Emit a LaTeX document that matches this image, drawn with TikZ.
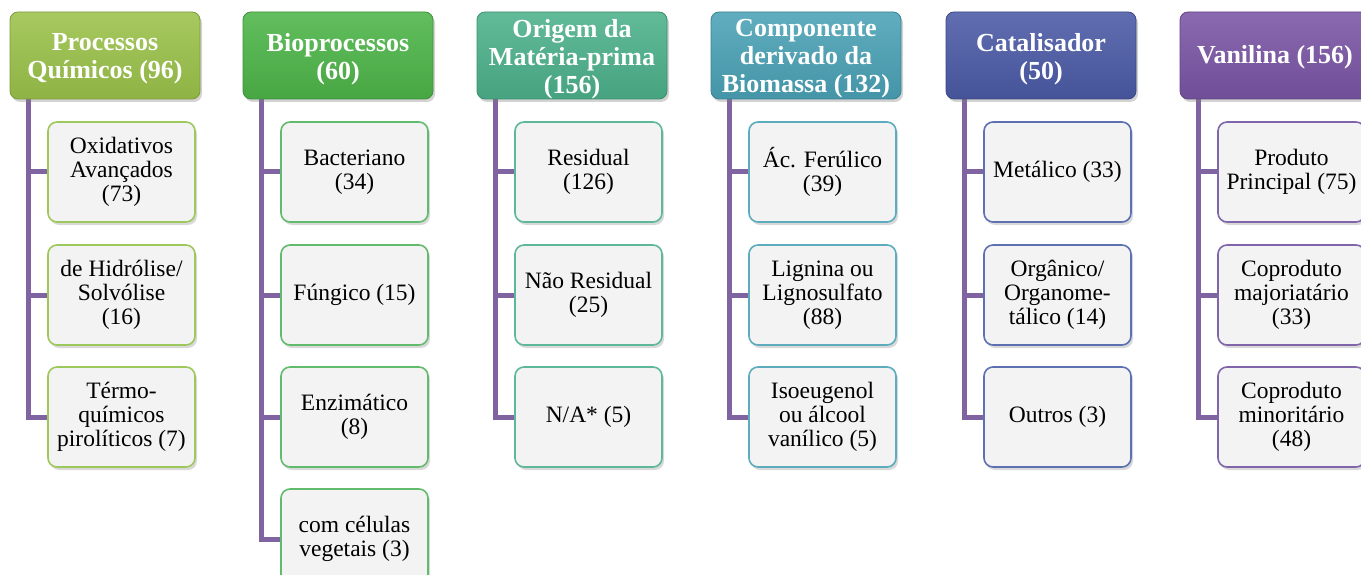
\documentclass[tikz,border=0pt]{standalone}
\usepackage{fontspec}
\setmainfont{Liberation Serif}
\usetikzlibrary{shadows,backgrounds}
\definecolor{hA}{HTML}{9BC24A}
\definecolor{hB}{HTML}{4DB548}
\definecolor{hC}{HTML}{4CB18A}
\definecolor{hD}{HTML}{4AA2B6}
\definecolor{hE}{HTML}{4B5AA6}
\definecolor{hF}{HTML}{7A55A5}
\definecolor{bA}{HTML}{9CC85C}
\definecolor{bB}{HTML}{62BB6C}
\definecolor{bC}{HTML}{5DB899}
\definecolor{bD}{HTML}{5CACBE}
\definecolor{bE}{HTML}{5C70B2}
\definecolor{bF}{HTML}{8065AA}
\definecolor{leafgray}{HTML}{F3F3F3}
\definecolor{connpurple}{HTML}{8064A2}
\tikzset{
  hdr/.style={rounded corners=8pt, minimum width=190pt, minimum height=87pt,
    inner sep=1pt, line width=0.8pt,
    top color=#1!88!white, bottom color=#1!92!black, draw=#1!80!black,
    drop shadow={opacity=0.35, shadow xshift=2pt, shadow yshift=-3pt}},
  hdrtext/.style={inner sep=0pt, text=white, align=center,
    font=\fontsize{26}{28}\selectfont\bfseries},
  leaf/.style={rounded corners=9pt, minimum width=147pt, minimum height=100pt,
    inner sep=1pt, fill=leafgray, draw=#1, line width=1.6pt, align=center,
    font=\fontsize{23.5}{24}\selectfont,
    drop shadow={opacity=0.3, shadow xshift=2pt, shadow yshift=-3pt}},
  conn/.style={line width=5pt, draw=connpurple, line join=miter}
}
\begin{document}
\begin{tikzpicture}[x=1pt,y=-1pt]
\useasboundingbox (0,0) rectangle (1361,575);
\clip (0,0) rectangle (1361,575);
% headers
\node[hdr=hA] (h1) at (105,55.5) {};
\node[hdr=hB] (h2) at (338,55.5) {};
\node[hdr=hC] (h3) at (572,55.5) {};
\node[hdr=hD] (h4) at (806,55.5) {};
\node[hdr=hE] (h5) at (1041,55.5) {};
\node[hdr=hF] (h6) at (1275,55.5) {};
\node[hdrtext] (t1) at ([yshift=-3.5pt]h1.center) {Processos\\Químicos (96)};
\node[hdrtext] (t2) at ([yshift=-3.5pt]h2.center) {Bioprocessos\\(60)};
\node[hdrtext] (t3) at ([yshift=-3.5pt]h3.center) {Origem da\\Matéria-prima\\(156)};
\node[hdrtext] (t4) at ([yshift=-3.5pt]h4.center) {Componente\\derivado da\\Biomassa (132)};
\node[hdrtext] (t5) at ([yshift=-3.5pt]h5.center) {Catalisador\\(50)};
\node[hdrtext] (t6) at ([yshift=-1.5pt]h6.center) {Vanilina (156)};
% column 1
\node[leaf=bA] (a1) at (121.5,172) {Oxidativos\\Avançados\\(73)};
\node[leaf=bA] (a2) at (121.5,295) {de Hidrólise/\\Solvólise\\(16)};
\node[leaf=bA] (a3) at (121.5,417) {Térmo-\\químicos\\pirolíticos (7)};
% column 2
\node[leaf=bB] (b1) at (354.5,172) {Bacteriano\\(34)};
\node[leaf=bB] (b2) at (354.5,295) {Fúngico (15)};
\node[leaf=bB] (b3) at (354.5,417) {Enzimático\\(8)};
\node[leaf=bB] (b4) at (354.5,539) {com células\\vegetais (3)};
% column 3
\node[leaf=bC] (c1) at (588.5,172) {Residual\\(126)};
\node[leaf=bC] (c2) at (588.5,295) {Não Residual\\(25)};
\node[leaf=bC] (c3) at (588.5,417) {N/A* (5)};
% column 4
\node[leaf=bD] (d1) at (822.5,172) {Ác. Ferúlico\\(39)};
\node[leaf=bD] (d2) at (822.5,295) {Lignina ou\\Lignosulfato\\(88)};
\node[leaf=bD] (d3) at (822.5,417) {Isoeugenol\\ou álcool\\vanílico (5)};
% column 5
\node[leaf=bE] (e1) at (1057.5,172) {Metálico (33)};
\node[leaf=bE] (e2) at (1057.5,295) {Orgânico/\\Organome-\\tálico (14)};
\node[leaf=bE] (e3) at (1057.5,417) {Outros (3)};
% column 6
\node[leaf=bF] (f1) at (1291.5,172) {Produto\\Principal (75)};
\node[leaf=bF] (f2) at (1291.5,295) {Coproduto\\majoriatário\\(33)};
\node[leaf=bF] (f3) at (1291.5,417) {Coproduto\\minoritário\\(48)};
% connectors
\begin{scope}[on background layer]
\foreach \h/\list in {h1/{a1,a2,a3}, h2/{b1,b2,b3,b4}, h3/{c1,c2,c3}, h4/{d1,d2,d3}, h5/{e1,e2,e3}, h6/{f1,f2,f3}}{
  \foreach \c in \list {
    \draw[conn] ([xshift=19pt]\h.south west) |- (\c.west);
  }
}
\end{scope}
\end{tikzpicture}
\end{document}
